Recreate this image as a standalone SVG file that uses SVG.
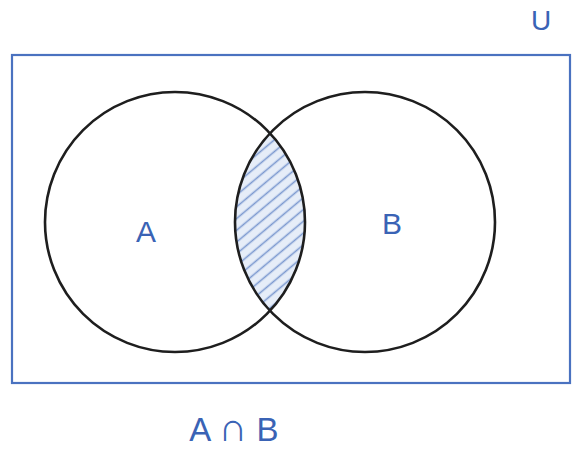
<svg xmlns="http://www.w3.org/2000/svg" width="582" height="451" viewBox="0 0 582 451">
<style>
.set{fill:none;stroke:#1e1e1e;stroke-width:2.6}
.lbl{font-family:"Liberation Sans",Arial,sans-serif;fill:#3a63b5;text-anchor:middle}
.hatch{stroke:#7b98cf;stroke-width:1.6}
</style>
<defs>
<clipPath id="lens">
<circle cx="365" cy="222" r="130"/>
</clipPath>
<pattern id="hp" width="9" height="9" patternUnits="userSpaceOnUse" patternTransform="rotate(-40)">
<line x1="0" y1="4.5" x2="9" y2="4.5" class="hatch"/>
</pattern>
</defs>
<rect width="582" height="451" fill="#ffffff"/>
<g id="universe">
<rect x="12" y="55" width="558" height="328" fill="none" stroke="#4a72c0" stroke-width="2.2"/>
<text class="lbl" x="541" y="30" font-size="28">U</text>
</g>
<g id="intersection">
<circle cx="175" cy="222" r="130" fill="#e6edf8" clip-path="url(#lens)"/>
<circle cx="175" cy="222" r="130" fill="url(#hp)" clip-path="url(#lens)"/>
</g>
<g id="setA">
<circle class="set" cx="175" cy="222" r="130"/>
<text class="lbl" x="146" y="242" font-size="30">A</text>
</g>
<g id="setB">
<circle class="set" cx="365" cy="222" r="130"/>
<text class="lbl" x="392" y="234" font-size="30">B</text>
</g>
<g id="connectors"></g>
<g id="caption">
<text class="lbl" x="234" y="441" font-size="33">A <tspan font-size="40">∩</tspan> B</text>
</g>
</svg>
